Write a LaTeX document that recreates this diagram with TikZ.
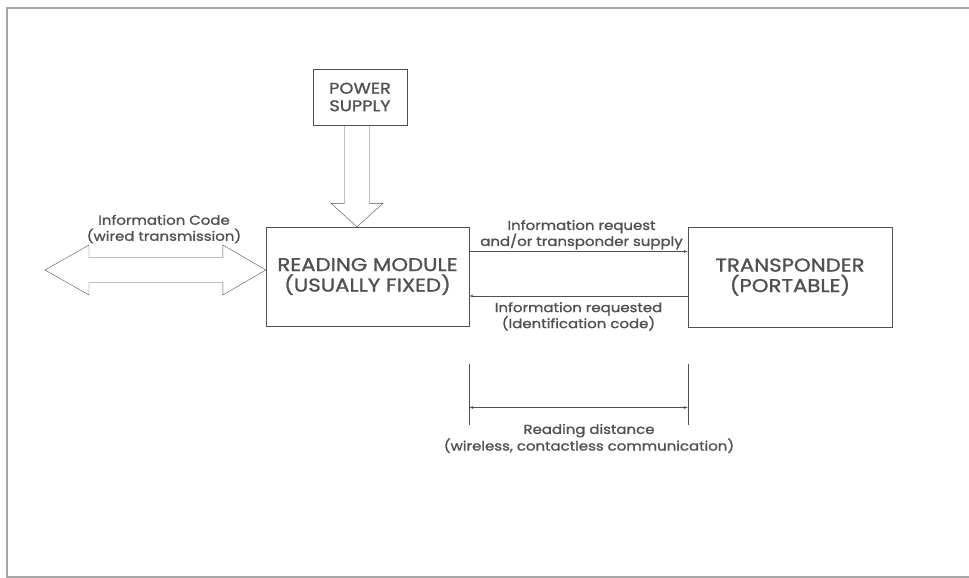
\documentclass[tikz,border=0pt]{standalone}
\usepackage{fontspec}
\setmainfont{Poppins}[FakeStretch=1.15, FakeBold=1.2]
\usepackage{tikz}
\usetikzlibrary{arrows,calc}
\definecolor{ink}{HTML}{505050}
\tikzstyle{basicbox} = [draw, thin, inner sep=0pt, align=center]
\tikzstyle{hollow} = [draw, thin, line join=miter]
\tikzstyle{legend} = [align=center, inner sep=2pt, font=\fontsize{13}{16}\selectfont]

\begin{document}
\begin{tikzpicture}[x=1pt, y=-1pt, >=latex', thin, color=ink, font=\fontsize{18.5}{20.5}\selectfont]
        \useasboundingbox (0,0) rectangle (969,578);
        \draw[line width=1.3pt, color=gray!70] (969,8) -- (7,8) -- (7,577) -- (969,577);
        % blocks
        \path[] node[basicbox, minimum width=94pt, minimum height=56pt, font=\fontsize{15.5}{17.5}\selectfont] (power) at (360,97) {POWER\\SUPPLY};
        \path[] node[basicbox, minimum width=203pt, minimum height=99pt] (reader) at (367.5,276.5) {READING MODULE\\(USUALLY FIXED)};
        \path[] node[basicbox, minimum width=204pt, minimum height=100pt] (transp) at (790,277) {TRANSPONDER\\(PORTABLE)};
        % hollow arrows
        \coordinate (ps) at ($(power.south)+(-3,0)$);
        \coordinate (pt) at (ps |- reader.north);
        \draw[hollow] ([xshift=-12.5pt]ps) -- ([shift={(-12.5,-23.5)}]pt) -- ([shift={(-26,-23.5)}]pt) -- (pt)
                -- ([shift={(26,-23.5)}]pt) -- ([shift={(12.5,-23.5)}]pt) -- ([xshift=12.5pt]ps);
        \coordinate (wl) at (45,270);
        \coordinate (wr) at (reader.west |- wl);
        \draw[hollow] (wl) -- ([shift={(44,-25)}]wl) -- ([shift={(44,-12.5)}]wl) -- ([shift={(-43,-12.5)}]wr)
                -- ([shift={(-43,-25)}]wr) -- (wr) -- ([shift={(-43,25)}]wr) -- ([shift={(-43,12.5)}]wr)
                -- ([shift={(44,12.5)}]wl) -- ([shift={(44,25)}]wl) -- cycle;
        \path[] node[legend] (wirelbl) at (164,229) {Information Code\\(wired transmission)};
        % radio link
        \path[->] ([yshift=25pt]reader.east) edge node[legend, above, xshift=3pt] {Information request\\and/or transponder supply} ([yshift=25pt]reader.east -| transp.west);
        \path[->] ([yshift=-19.5pt]reader.east -| transp.west) edge node[legend, below=4pt] {Information requested\\(Identification code)} ([yshift=-19.5pt]reader.east);
        % reading distance
        \coordinate (rdtop) at (0,364);
        \coordinate (rdmid) at (0,407.5);
        \coordinate (rdbot) at (0,425);
        \draw (reader.east |- rdtop) -- (reader.east |- rdbot);
        \draw (transp.west |- rdtop) -- (transp.west |- rdbot);
        \path[<->] (reader.east |- rdmid) edge (transp.west |- rdmid);
        \path[] node[legend, font=\fontsize{13}{14}\selectfont] (distlbl) at (589,438.5) {Reading distance\\(wireless, contactless communication)};
\end{tikzpicture}
\end{document}
